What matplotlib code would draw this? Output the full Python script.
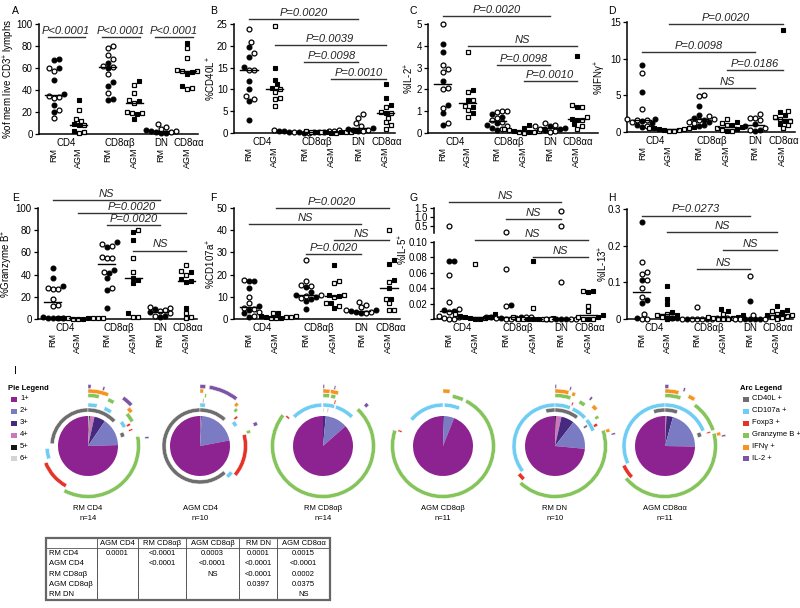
import numpy as np
import matplotlib
matplotlib.use('Agg')
import matplotlib.pyplot as plt
from matplotlib.patches import Wedge, Rectangle

plt.rcParams['font.family'] = ['Liberation Sans', 'DejaVu Sans']
plt.rcParams['mathtext.default'] = 'regular'

W, H = 800, 608

# group order: RM CD4, AGM CD4, RM CD8ab, AGM CD8ab, RM DN, AGM CD8aa
group_ticks = ['RM', 'AGM', 'RM', 'AGM', 'RM', 'AGM']
subset_names = ['CD4', 'CD8αβ', 'DN', 'CD8αα']

# A: % of memory live CD3+ lymphocytes
cd3_filled = [[67, 68, 60, 49, 36, 26, 20], [31, 9, 8, 3], [65, 60, 47, 44, 32, 31],
              [48, 30, 18, 14], [4, 3, 2, 1, 0.5], [83, 55, 44, 56]]
cd3_open = [[60, 57, 35, 34, 33, 22, 15], [22, 14, 12, 8, 2, 1], [80, 78, 72, 68, 62, 61, 55, 37],
            [45, 37, 31, 28, 19, 19, 20], [9, 6, 5, 3, 2], [78, 69, 58, 57, 57, 42, 41]]
# B: %CD40L+
cd40l_filled = [[19.8, 17.5, 15.2, 12, 10.1, 7.3, 2.9], [14.8, 12.2, 11.2, 10.3],
                [0.3, 0.2, 0.4, 0.1, 0.3, 0.2, 0.5], [0.3, 0.2, 0.1, 0.4, 0.2],
                [1.2, 0.9, 0.7, 0.4], [11.3, 8.0, 6.5, 4.5]]
cd40l_open = [[23.8, 20.8, 18.4, 14.5, 14.4, 8.4, 7.8], [24.5, 10.0, 9.3, 8.0, 7.9, 6.2],
              [0.6, 0.8, 0.3, 0.2, 0.4, 0.5, 0.1], [0.2, 0.3, 0.1, 0.4, 0.2, 0.3],
              [4.3, 3.5, 2.2, 1.5, 0.8, 0.5], [6.0, 4.9, 4.5, 3.5, 2.5, 1.8, 1.0]]
# C: %IL-2+
il2_filled = [[4.1, 3.7, 2.4, 1.3, 0.9, 0.38], [1.95, 1.5, 1.2, 0.9],
              [0.85, 0.75, 0.45, 0.35, 0.25, 0.15], [0.35, 0.25, 0.2, 0.1, 0.05],
              [0.3, 0.25, 0.2, 0.15], [3.55, 1.2, 0.65, 0.6, 0.4]]
il2_open = [[5.0, 3.1, 2.95, 2.8, 2.0, 2.05, 1.15, 0.45], [3.7, 1.9, 1.5, 1.25, 0.75, 1.05],
            [1.0, 0.95, 1.0, 0.7, 0.6, 0.5, 0.3, 0.2], [0.2, 0.15, 0.1, 0.05, 0.05, 0.0],
            [0.45, 0.35, 0.3, 0.2, 0.1, 0.05], [1.3, 1.2, 0.75, 0.6, 0.3, 0.2]]
# D: %IFNg+
ifng_filled = [[9.2, 5.5, 1.8, 1.5, 1.2, 1.0, 0.7], [0.7, 0.5, 0.4, 0.3],
               [3.6, 2.3, 1.9, 1.7, 1.3, 1.0, 0.8], [1.3, 1.0, 0.7, 0.4, 0.2],
               [1.1, 0.8, 0.3, 0.2], [13.9, 2.7, 2.3, 1.5, 1.1]]
ifng_open = [[8.0, 3.1, 1.8, 1.7, 1.6, 1.3, 0.8], [0.6, 0.5, 0.4, 0.3, 0.2, 0.1],
             [5.0, 4.9, 2.2, 1.8, 1.6, 1.4, 1.2], [1.8, 1.2, 0.9, 0.5, 0.3, 0.2],
             [2.4, 1.9, 1.9, 1.6, 0.5, 0.3], [2.9, 2.0, 1.8, 1.5, 0.9, 0.5]]
# E: %Granzyme B+
gzmb_filled = [[46, 37, 30, 2, 1, 0.5, 1], [1, 0.5, 0.3, 0.8],
               [69, 65, 44, 37, 26, 10, 41], [78, 71, 37, 32, 5, 35],
               [9, 6, 3, 2], [42, 36, 34, 33, 10]]
gzmb_open = [[28, 27, 27, 18, 13, 12, 1], [1, 0.5, 0.3, 0.8, 0.6, 0.2],
             [68, 66, 56, 55, 55, 42, 28], [80, 55, 42, 2, 2],
             [11, 10, 8, 7, 5, 3], [49, 43, 40, 5, 2, 0.5]]
# F: %CD107a+
cd107_filled = [[17, 17, 14, 6, 4, 2.5, 1], [2.5, 1.5, 1.0, 0.5],
                [14.5, 12, 10, 9, 8, 4.5, 11], [24.5, 11, 7, 5, 10.5],
                [4, 3.5, 3, 2.5], [26.5, 25, 17.5, 14, 9]]
cd107_open = [[17.5, 10, 7, 5, 4.5, 3, 1.5], [2.5, 1.5, 1.0, 0.8, 0.5, 0.3],
              [26.5, 15.5, 17, 15, 11, 10.5, 9.5], [16, 17, 11, 7, 6, 10],
              [7.5, 6.5, 5.5, 4, 3, 2.5], [40, 16.5, 9, 7, 4, 4]]
# G: %IL-5+
il5_filled = [[0.075, 0.075, 0.012, 0.01], [0.006, 0.004, 0.002, 0.001, 0.0005, 0.0],
              [0.018, 0.003, 0.002, 0.002, 0.001, 0.001], [0.075, 0.001, 0.0, 0.0, 0.0],
              [0.0, 0.0, 0.0], [0.035, 0.036, 0.005, 0.002, 0.0]]
il5_open = [[0.5, 0.057, 0.022, 0.013, 0.009, 0.004, 0.002, 0.001, 0.0005, 0.0],
            [0.072, 0.006, 0.003, 0.001], [0.17, 0.065, 0.017, 0.003, 0.002, 0.001, 0.0, 0.0],
            [0.014, 0.003, 0.0, 0.0, 0.0, 0.0], [1.35, 0.5, 0.048, 0.0, 0.0, 0.0, 0.0],
            [0.037, 0.017, 0.010, 0.002, 0.0, 0.0]]
# H: %IL-13+
il13_filled = [[0.264, 0.107, 0.052, 0.045, 0.004], [0.09, 0.055, 0.04, 0.02, 0.01],
               [0.004, 0.003, 0.002, 0.002, 0.001, 0.001], [0.028, 0.023, 0.01, 0.005],
               [0.05, 0.0, 0.0, 0.0, 0.0], [0.035, 0.025, 0.02, 0.01]]
il13_open = [[0.155, 0.127, 0.123, 0.107, 0.084, 0.061, 0.013, 0.0, 0.0],
             [0.015, 0.012, 0.005, 0.003, 0.0], [0.032, 0.003, 0.002, 0.001, 0.001, 0.0, 0.0, 0.0],
             [0.015, 0.005, 0.003, 0.002, 0.001, 0.0, 0.0], [0.118, 0.012, 0.0, 0.0, 0.0],
             [0.022, 0.015, 0.01, 0.008, 0.005, 0.003, 0.0]]

# comparisons: (group i, group j, label)
cmp_a = [(0, 1, 'P<0.0001'), (2, 3, 'P<0.0001'), (4, 5, 'P<0.0001')]
cmp_b = [(0, 4, 'P=0.0020'), (1, 5, 'P=0.0039'), (2, 4, 'P=0.0098'), (3, 5, 'P=0.0010')]
cmp_c = [(0, 4, 'P=0.0020'), (1, 5, 'NS'), (2, 4, 'P=0.0098'), (3, 5, 'P=0.0010')]
cmp_d = [(1, 5, 'P=0.0020'), (0, 4, 'P=0.0098'), (3, 5, 'P=0.0186'), (2, 4, 'NS')]
cmp_e = [(0, 4, 'NS'), (1, 5, 'P=0.0020'), (2, 4, 'P=0.0020'), (3, 5, 'NS')]
cmp_f = [(1, 5, 'P=0.0020'), (0, 4, 'NS'), (3, 5, 'NS'), (2, 4, 'P=0.0020')]
cmp_g = [(0, 4, 'NS'), (2, 4, 'NS'), (1, 5, 'NS'), (3, 5, 'NS')]
cmp_h = [(0, 4, 'P=0.0273'), (1, 5, 'NS'), (3, 5, 'NS'), (2, 4, 'NS')]

# SPICE pies: fractions of 6+, 5+, 4+, 3+, 2+, 1+ (clockwise from 12 o'clock)
pie_names = ['RM CD4', 'AGM CD4', 'RM CD8αβ', 'AGM CD8αβ', 'RM DN', 'AGM CD8αα']
pie_n = [14, 10, 14, 11, 10, 11]
pie_fracs = [[0.005, 0.005, 0.025, 0.06, 0.15, 0.755],
             [0.0, 0.0, 0.005, 0.005, 0.21, 0.78],
             [0.0, 0.0, 0.0, 0.015, 0.12, 0.865],
             [0.0, 0.0, 0.0, 0.005, 0.055, 0.94],
             [0.0, 0.005, 0.03, 0.07, 0.16, 0.735],
             [0.0, 0.003, 0.005, 0.035, 0.21, 0.747]]
pie_levels = ['1+', '2+', '3+', '4+', '5+', '6+']
arc_markers = ['CD40L +', 'CD107a +', 'Foxp3 +', 'Granzyme B +', 'IFNγ +', 'IL-2 +']
# arcs: (marker index, start, end) as fraction of circle clockwise from top
pie_arcs = [
    [(0, 0.76, 1.0), (0, 0.0, 0.13), (0, 0.19, 0.21),
     (1, 0.70, 0.74), (1, 0.0, 0.035), (1, 0.065, 0.095), (1, 0.15, 0.175),
     (2, 0.58, 0.69), (2, 0.17, 0.178), (2, 0.19, 0.196),
     (3, 0.22, 0.578), (3, 0.0, 0.035), (3, 0.065, 0.085), (3, 0.14, 0.17),
     (4, 0.0, 0.06), (4, 0.13, 0.145),
     (5, 0.0, 0.008), (5, 0.04, 0.045), (5, 0.10, 0.13), (5, 0.225, 0.23)],
    [(0, 0.38, 1.0), (0, 0.0, 0.12),
     (1, 0.0, 0.02), (1, 0.15, 0.17), (1, 0.36, 0.385),
     (2, 0.21, 0.36), (2, 0.14, 0.148), (2, 0.01, 0.013),
     (3, 0.12, 0.13), (3, 0.2, 0.21), (3, 0.015, 0.02),
     (4, 0.0, 0.01), (4, 0.11, 0.12),
     (5, 0.0, 0.015), (5, 0.025, 0.105), (5, 0.185, 0.195)],
    [(1, 0.875, 0.995), (1, 0.0, 0.045), (1, 0.05, 0.125),
     (3, 0.12, 0.855), (3, 0.0, 0.02), (3, 0.025, 0.04),
     (2, 0.855, 0.862), (2, 0.04, 0.045),
     (0, 0.0, 0.003), (0, 0.02, 0.023),
     (4, 0.0, 0.02), (4, 0.022, 0.045),
     (5, 0.0, 0.004), (5, 0.03, 0.034), (5, 0.125, 0.135)],
    [(1, 0.86, 1.0), (1, 0.005, 0.065),
     (3, 0.075, 0.80), (3, 0.03, 0.065),
     (2, 0.80, 0.806),
     (4, 0.0, 0.02)],
    [(0, 0.96, 1.0), (0, 0.0, 0.105), (0, 0.155, 0.165),
     (1, 0.645, 1.0), (1, 0.0, 0.06), (1, 0.07, 0.13), (1, 0.14, 0.19),
     (2, 0.62, 0.645), (2, 0.06, 0.065), (2, 0.17, 0.18),
     (3, 0.20, 0.62), (3, 0.0, 0.05), (3, 0.08, 0.1), (3, 0.15, 0.16),
     (4, 0.0, 0.04), (4, 0.05, 0.06), (4, 0.12, 0.135), (4, 0.2, 0.21),
     (5, 0.0, 0.004), (5, 0.04, 0.044), (5, 0.1, 0.106), (5, 0.215, 0.22)],
    [(0, 0.95, 1.0), (0, 0.0, 0.055), (0, 0.19, 0.21),
     (1, 0.68, 1.0), (1, 0.0, 0.19),
     (2, 0.63, 0.68), (2, 0.2, 0.205),
     (3, 0.1, 0.2), (3, 0.21, 0.64), (3, 0.0, 0.05),
     (4, 0.0, 0.04), (4, 0.07, 0.09), (4, 0.21, 0.22),
     (5, 0.0, 0.01), (5, 0.05, 0.055), (5, 0.22, 0.225)],
]

# permutation test table
tbl_cols = ['', 'AGM CD4', 'RM CD8αβ', 'AGM CD8αβ', 'RM DN', 'AGM CD8αα']
tbl_rows = ['RM CD4', 'AGM CD4', 'RM CD8αβ', 'AGM CD8αβ', 'RM DN']
tbl_vals = [['0.0001', '<0.0001', '0.0003', '0.0001', '0.0015'],
            ['', '<0.0001', '<0.0001', '<0.0001', '<0.0001'],
            ['', '', 'NS', '<0.0001', '0.0002'],
            ['', '', '', '0.0397', '0.0375'],
            ['', '', '', '', 'NS']]

# styles
xpos = [0.55, 1.5, 2.6, 3.6, 4.6, 5.6]
subset_x = [1.03, 3.05, 4.6, 5.65]
pie_colors = ['#d4d4d4', '#151515', '#c978bd', '#47297f', '#7b7bc3', '#8d2391']
arc_colors = ['#6e6e6e', '#6fcdf3', '#e63329', '#84c45a', '#f5941f', '#7d55a4']
ring_r = [38, 43, 47.5, 52.5, 57, 61.5]

fig = plt.figure(figsize=(8, 6.08), dpi=100)


def px_axes(l, t, r, b):
    ax = fig.add_axes([l / W, 1 - b / H, (r - l) / W, (b - t) / H])
    ax.patch.set_visible(False)
    return ax


def swarm(vals, ylo, yhi, h_px, d_px=5.0):
    vals = np.asarray(vals, float)
    ypx = (vals - ylo) / (yhi - ylo) * h_px
    offs = np.zeros(len(vals))
    placed = []
    for i in np.argsort(ypx, kind='stable'):
        y = ypx[i]
        x = 0.0
        for k in range(60):
            m = (k + 1) // 2
            x = (1 if k % 2 else -1) * m * d_px * 0.5
            if all((x - a) ** 2 + (y - b) ** 2 >= d_px ** 2 * 0.97 for a, b in placed):
                break
        placed.append((x, y))
        offs[i] = x
    return offs


def draw_points(ax, filled, opened, box, ylim, xmax, keep=lambda v: True):
    w_px, h_px = box[2] - box[0], box[3] - box[1]
    ux = w_px / xmax
    for g in range(6):
        f = [v for v in filled[g] if keep(v)]
        o = [v for v in opened[g] if keep(v)]
        vals = f + o
        if not vals:
            continue
        offs = swarm(vals, ylim[0], ylim[1], h_px) / ux
        xs = xpos[g] + offs
        mk, ms = ('o', 3.5) if g % 2 == 0 else ('s', 3.2)
        nf = len(f)
        ax.plot(xs[:nf], vals[:nf], ls='none', marker=mk, ms=ms, mfc='k', mec='k',
                mew=0.8, clip_on=False, zorder=3)
        ax.plot(xs[nf:], vals[nf:], ls='none', marker=mk, ms=ms, mfc='w', mec='k',
                mew=0.9, clip_on=False, zorder=3)


def draw_medians(ax, filled, opened):
    for g in range(6):
        med = np.median(list(filled[g]) + list(opened[g]))
        ax.plot([xpos[g] - 0.32, xpos[g] + 0.32], [med, med], color='k', lw=1.0,
                clip_on=False, zorder=4)


def draw_bars(ax, comps, heights, ext=0.0):
    for (i, j, lab), y in zip(comps, heights):
        ax.plot([xpos[i] - ext, xpos[j] + ext], [y, y], color='#333333', lw=1.0,
                clip_on=False, zorder=2)
        ax.annotate(lab, xy=((xpos[i] + xpos[j]) / 2, y), xytext=(0, 0.8),
                    textcoords='offset points', ha='center', va='bottom',
                    fontsize=8, style='italic', color='#222222', annotation_clip=False)


def base_style(ax, box, xmax, ylim, ticks, labels, ylabel, label_x, label_y=0.5, xaxis=True):
    ax.set_xlim(0, xmax)
    ax.set_ylim(*ylim)
    ax.spines['top'].set_visible(False)
    ax.spines['right'].set_visible(False)
    for s in ['left', 'bottom']:
        ax.spines[s].set_linewidth(1.1)
    ax.set_yticks(ticks)
    ax.set_yticklabels(labels)
    ax.tick_params(axis='y', labelsize=7, length=3, width=0.9, pad=1.5)
    if ylabel:
        # label_x is the horizontal centre of the rotated label, in pixels
        ax.set_ylabel(ylabel, fontsize=7)
        ax.yaxis.set_label_coords((label_x + 4.5 - box[0]) / (box[2] - box[0]), label_y)
    if xaxis:
        ax.set_xticks(xpos)
        ax.set_xticklabels(group_ticks, rotation=90, fontsize=6.5, va='top')
        ax.tick_params(axis='x', length=0, pad=10)
        for sx, name in zip(subset_x, subset_names):
            ax.annotate(name, xy=(sx, 0), xycoords=('data', 'axes fraction'),
                        xytext=(0, -6.5), textcoords='offset points', ha='center',
                        va='center', fontsize=7, annotation_clip=False)
    else:
        ax.spines['bottom'].set_visible(False)
        ax.set_xticks([])


def panel(box, xmax, filled, opened, ylim, ticks, labels, ylabel, label_x,
          comps, heights, ext=0.0):
    ax = px_axes(*box)
    base_style(ax, box, xmax, ylim, ticks, labels, ylabel, label_x)
    draw_points(ax, filled, opened, box, ylim, xmax)
    draw_medians(ax, filled, opened)
    draw_bars(ax, comps, heights, ext)
    return ax


panel((39, 24, 198, 134), 6.0, cd3_filled, cd3_open, (0, 100), range(0, 101, 20),
      ['0', '20', '40', '60', '80', '100'], '%of mem live CD3$^{+}$ lymphs', 13,
      cmp_a, [88, 88, 88], ext=0.22)
panel((234, 24, 395, 133), 5.95, cd40l_filled, cd40l_open, (0, 25), range(0, 26, 5),
      ['0', '5', '10', '15', '20', '25'], '%CD40L$^{+}$', 213,
      cmp_b, [26.1, 20.1, 16.3, 12.4])
panel((428, 24, 598, 133), 6.4, il2_filled, il2_open, (0, 5), range(0, 6),
      ['0', '1', '2', '3', '4', '5'], '%IL-2$^{+}$', 412,
      cmp_c, [5.37, 3.99, 3.11, 2.39])
panel((627, 22, 795, 132), 6.05, ifng_filled, ifng_open, (0, 15), [0, 5, 10, 15],
      ['0', '5', '10', '15'], '%IFNγ$^{+}$', 604,
      cmp_d, [14.7, 10.9, 8.5, 6.0])
panel((38, 208, 197, 319), 6.0, gzmb_filled, gzmb_open, (0, 100), range(0, 101, 20),
      ['0', '20', '40', '60', '80', '100'], '%Granzyme B$^{+}$', 11,
      cmp_e, [107.5, 95.5, 84.6, 61.7])
panel((234, 208, 400, 319), 6.0, cd107_filled, cd107_open, (0, 50), range(0, 51, 10),
      ['0', '10', '20', '30', '40', '50'], '%CD107a$^{+}$', 213,
      cmp_f, [50, 42.9, 35.7, 29.2])

# G: broken axis
g_low = (434, 242, 598, 319)
g_high = (434, 208, 598, 233)
g_xmax = 5.95
axg = px_axes(*g_low)
base_style(axg, g_low, g_xmax, (0, 0.1), [0, 0.02, 0.04, 0.06, 0.08, 0.10],
           ['', '0.02', '0.04', '0.06', '0.08', '0.10'], '%IL-5$^{+}$', 405, label_y=0.9)
draw_points(axg, il5_filled, il5_open, g_low, (0, 0.1), g_xmax, keep=lambda v: v <= 0.1)
draw_medians(axg, il5_filled, il5_open)
draw_bars(axg, cmp_g[2:], [0.1026, 0.0805])
axg2 = px_axes(*g_high)
base_style(axg2, g_high, g_xmax, (0.14, 1.52), [0.5, 1.0, 1.5], ['0.5', '1.0', '1.5'],
           None, 0, xaxis=False)
draw_points(axg2, il5_filled, il5_open, g_high, (0.14, 1.52), g_xmax, keep=lambda v: v > 0.1)
draw_bars(axg2, cmp_g[:2], [1.85, 0.92])

panel((627, 209, 793, 319), 6.2, il13_filled, il13_open, (0, 0.3), [0, 0.1, 0.2, 0.3],
      ['0', '0.1', '0.2', '0.3'], '%IL-13$^{+}$', 605,
      cmp_h, [0.282, 0.236, 0.189, 0.137])

# panel I: SPICE pies
pie_cx = [88, 200, 323, 443, 555, 665]
pie_cy = 446
half = 68
for k in range(6):
    ax = px_axes(pie_cx[k] - half, pie_cy - half, pie_cx[k] + half, pie_cy + half)
    ax.pie(pie_fracs[k], radius=30, startangle=90, counterclock=False,
           colors=pie_colors, wedgeprops=dict(linewidth=0))
    for m, f0, f1 in pie_arcs[k]:
        ax.add_patch(Wedge((0, 0), ring_r[m], 90 - 360 * f1, 90 - 360 * f0, width=4,
                           facecolor=arc_colors[m], edgecolor='white', lw=0.3))
    ax.set_xlim(-half, half)
    ax.set_ylim(-half, half)
    ax.set_aspect('equal')
    ax.axis('off')

ov = fig.add_axes([0, 0, 1, 1])
ov.set_xlim(0, W)
ov.set_ylim(H, 0)
ov.axis('off')

for k in range(6):
    ov.text(pie_cx[k], 508, pie_names[k], ha='center', va='center', fontsize=5.5)
    ov.text(pie_cx[k], 518, 'n=%d' % pie_n[k], ha='center', va='center', fontsize=5.5)

# legends
legend_y = [399, 411, 423, 435, 447, 458]
ov.text(8, 389, 'Pie Legend', fontsize=5.5, fontweight='bold', va='center')
for y, lab, c in zip(legend_y, pie_levels, pie_colors[::-1]):
    ov.add_patch(Rectangle((11, y - 2.5), 6, 5, facecolor=c, edgecolor='none'))
    ov.text(20, y, lab, fontsize=5.5, va='center')
ov.text(740, 389, 'Arc Legend', fontsize=5.5, fontweight='bold', va='center')
for y, lab, c in zip(legend_y, arc_markers, arc_colors):
    ov.add_patch(Rectangle((743, y - 2.5), 6, 5, facecolor=c, edgecolor='none'))
    ov.text(752, y, lab, fontsize=5.5, va='center')

# panel letters
for lab, x, y in [('A', 12, 11), ('B', 210, 11), ('C', 410, 11), ('D', 608, 11),
                  ('E', 12, 198), ('F', 210, 198), ('G', 410, 198), ('H', 608, 198),
                  ('I', 14, 371)]:
    ov.text(x, y, lab, fontsize=7.5, va='center', ha='left')

# table
cell_text = [tbl_cols] + [[r] + v for r, v in zip(tbl_rows, tbl_vals)]
cell_col = [['white'] * 6] + [['white'] + ['#f6dcdc' if v not in ('', 'NS') else 'white'
                                          for v in row] for row in tbl_vals]
tx0, ty0, tx1, ty1 = 46, 538, 330, 600
tb = ov.table(cellText=cell_text, cellColours=cell_col, cellLoc='center',
              colWidths=[51, 41, 48, 53, 38, 53],
              bbox=[tx0 / W, 1 - ty1 / H, (tx1 - tx0) / W, (ty1 - ty0) / H])
tb.auto_set_font_size(False)
tb.set_fontsize(5.5)
nrow = len(cell_text)
for (r, c), cell in tb.get_celld().items():
    cell.set_edgecolor('#555555')
    cell.set_linewidth(0.6)
    cell.PAD = 0.05
    if r == 0:
        cell.visible_edges = 'closed'
    elif r == nrow - 1:
        cell.visible_edges = 'BLR'
    else:
        cell.visible_edges = 'LR'
    if c == 0 and r > 0:
        cell._loc = 'left'
        cell.get_text().set_ha('left')
ov.add_patch(Rectangle((tx0, ty0), tx1 - tx0, ty1 - ty0, fill=False,
                       edgecolor='#666666', lw=1.6, zorder=5))

fig.savefig('out.png', dpi=100)
